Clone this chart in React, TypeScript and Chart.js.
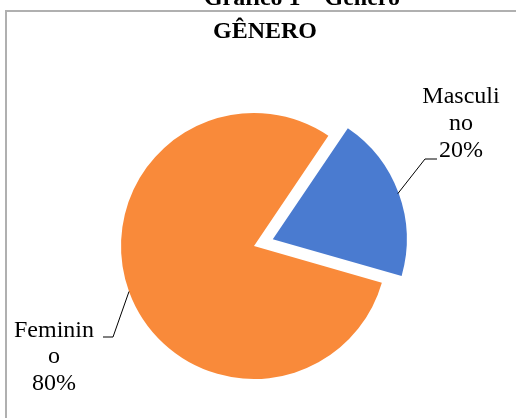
import React, { useEffect, useRef } from "react";
import { Chart, registerables } from "chart.js";

Chart.register(...registerables);

const categories = ["Masculino", "Feminino"];
const values = [20, 80];
const labelWords = [["Masculi", "no"], ["Feminin", "o"]];
const sliceColors = ["#4A7BD0", "#F98A3A"];
// Chart.js draws an arc's offset at a quarter of the option value
const sliceOffsets = [80, 0];
const chartTitle = "GÊNERO";
const caption = "Gráfico 1 – Gênero";

const W = 516;
const H = 418;
const FONT = "'Liberation Serif', 'Times New Roman', serif";

const labelLayout = [
  { elbow: [425, 159], end: [437, 159], textX: 461, baselines: [103, 130, 157] },
  { elbow: [113, 337], end: [103, 337], textX: 54, baselines: [337, 363, 390] },
];

const decorPlugin = {
  id: "decor",
  beforeDraw(chart: any) {
    const ctx = chart.ctx as CanvasRenderingContext2D;
    ctx.save();
    ctx.fillStyle = "#ffffff";
    ctx.fillRect(0, 0, W, H);
    ctx.strokeStyle = "#b0b0b0";
    ctx.lineWidth = 2;
    ctx.beginPath();
    ctx.moveTo(6, H);
    ctx.lineTo(6, 11);
    ctx.lineTo(W, 11);
    ctx.stroke();
    ctx.fillStyle = "#000000";
    ctx.textAlign = "center";
    ctx.textBaseline = "alphabetic";
    ctx.font = `bold 24px ${FONT}`;
    ctx.fillText(caption, 302, 5);
    ctx.fillText(chartTitle, 265, 38);
    ctx.restore();
  },
  afterDraw(chart: any) {
    const ctx = chart.ctx as CanvasRenderingContext2D;
    const meta = chart.getDatasetMeta(0);
    const total = values.reduce((a, b) => a + b, 0);
    ctx.save();
    meta.data.forEach((arc: any, i: number) => {
      const p = arc.getProps(["x", "y", "startAngle", "endAngle", "outerRadius"], true);
      const mid = (p.startAngle + p.endAngle) / 2;
      const off = (arc.options.offset || 0) / 4;
      const sx = p.x + Math.cos(mid) * (off + p.outerRadius);
      const sy = p.y + Math.sin(mid) * (off + p.outerRadius);
      const L = labelLayout[i];
      ctx.strokeStyle = "#000000";
      ctx.lineWidth = 1;
      ctx.beginPath();
      ctx.moveTo(sx, sy);
      ctx.lineTo(L.elbow[0], L.elbow[1]);
      ctx.lineTo(L.end[0], L.end[1]);
      ctx.stroke();
      const pct = Math.round((values[i] / total) * 100) + "%";
      const lines = [...labelWords[i], pct];
      ctx.fillStyle = "#000000";
      ctx.font = `24px ${FONT}`;
      ctx.textAlign = "center";
      ctx.textBaseline = "alphabetic";
      lines.forEach((t, k) => ctx.fillText(t, L.textX, L.baselines[k]));
    });
    ctx.restore();
  },
};

export default function App() {
  const ref = useRef<HTMLCanvasElement | null>(null);
  useEffect(() => {
    if (!ref.current) return;
    const chart = new Chart(ref.current, {
      type: "pie",
      data: {
        labels: categories,
        datasets: [
          {
            data: values,
            backgroundColor: sliceColors,
            borderWidth: 0,
            offset: sliceOffsets,
            radius: 133,
          } as any,
        ],
      },
      options: {
        animation: false,
        responsive: false,
        devicePixelRatio: 1,
        rotation: 34,
        layout: { padding: { left: 10, right: 18, top: 80, bottom: 6 } },
        plugins: {
          legend: { display: false },
          tooltip: { enabled: false },
          title: { display: false },
        },
      },
      plugins: [decorPlugin],
    });
    return () => chart.destroy();
  }, []);
  return (
    <div style={{ position: "fixed", left: 0, top: 0, width: W, height: H, background: "#fff" }}>
      <canvas ref={ref} width={W} height={H} style={{ display: "block" }} />
    </div>
  );
}
